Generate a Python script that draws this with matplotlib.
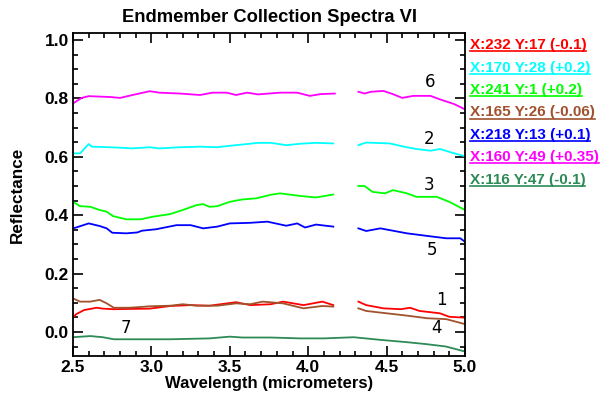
import numpy as np
import matplotlib
matplotlib.use("Agg")
import matplotlib.pyplot as plt
from matplotlib.lines import Line2D
from matplotlib.ticker import MultipleLocator, FormatStrFormatter

nan = np.nan

# spectra (nan marks the missing band)
red_wl = [2.5, 2.52, 2.57, 2.65, 2.69, 2.76, 2.86, 2.99, 3.12, 3.25, 3.37, 3.54, 3.63, 3.76, 3.84, 3.97, 4.09, 4.16,
          nan, 4.32, 4.37, 4.48, 4.59, 4.65, 4.71, 4.84, 4.90, 5.0]
red_refl = [0.050, 0.061, 0.075, 0.083, 0.080, 0.078, 0.079, 0.080, 0.089, 0.092, 0.090, 0.102, 0.092, 0.095, 0.104,
            0.092, 0.104, 0.092, nan, 0.104, 0.092, 0.081, 0.078, 0.083, 0.072, 0.064, 0.052, 0.049]

cyan_wl = [2.5, 2.545, 2.60, 2.62, 2.78, 2.88, 2.99, 3.05, 3.18, 3.31, 3.42, 3.50, 3.61, 3.68, 3.76, 3.86, 3.95, 4.05,
           4.16, nan, 4.32, 4.37, 4.52, 4.61, 4.69, 4.78, 4.84, 4.90, 5.0]
cyan_refl = [0.612, 0.612, 0.644, 0.635, 0.632, 0.629, 0.633, 0.629, 0.633, 0.635, 0.633, 0.638, 0.644, 0.648, 0.648,
             0.640, 0.645, 0.648, 0.646, nan, 0.640, 0.649, 0.646, 0.635, 0.627, 0.621, 0.627, 0.617, 0.602]

green_wl = [2.5, 2.545, 2.61, 2.67, 2.715, 2.755, 2.84, 2.93, 3.01, 3.12, 3.20, 3.29, 3.33, 3.37, 3.42, 3.50, 3.58,
            3.67, 3.76, 3.82, 3.95, 4.05, 4.16, nan, 4.32, 4.36, 4.41, 4.49, 4.54, 4.63, 4.69, 4.82, 4.90, 5.0]
green_refl = [0.446, 0.431, 0.429, 0.418, 0.412, 0.397, 0.386, 0.386, 0.395, 0.404, 0.418, 0.435, 0.438, 0.429,
              0.431, 0.446, 0.454, 0.458, 0.470, 0.475, 0.466, 0.461, 0.471, nan, 0.500, 0.500, 0.480, 0.475,
              0.486, 0.475, 0.463, 0.463, 0.446, 0.418]

brown_wl = [2.5, 2.545, 2.61, 2.67, 2.715, 2.76, 2.86, 2.99, 3.12, 3.20, 3.29, 3.42, 3.54, 3.63, 3.71, 3.84, 3.97,
            4.09, 4.16, nan, 4.32, 4.37, 4.50, 4.63, 4.76, 4.88, 5.0]
brown_refl = [0.115, 0.104, 0.104, 0.110, 0.098, 0.083, 0.083, 0.088, 0.090, 0.095, 0.090, 0.090, 0.098, 0.095,
              0.104, 0.098, 0.081, 0.089, 0.087, nan, 0.081, 0.072, 0.064, 0.056, 0.047, 0.044, 0.027]

blue_wl = [2.5, 2.52, 2.60, 2.67, 2.715, 2.75, 2.84, 2.91, 2.94, 3.03, 3.16, 3.25, 3.33, 3.42, 3.50, 3.63, 3.74, 3.86,
           3.93, 3.98, 4.05, 4.16, nan, 4.32, 4.37, 4.46, 4.54, 4.63, 4.76, 4.88, 4.97, 5.0]
blue_refl = [0.355, 0.358, 0.372, 0.363, 0.355, 0.340, 0.338, 0.341, 0.347, 0.352, 0.366, 0.366, 0.355, 0.361, 0.372,
             0.374, 0.378, 0.364, 0.372, 0.358, 0.368, 0.361, nan, 0.355, 0.346, 0.355, 0.347, 0.338, 0.329, 0.321,
             0.321, 0.309]

magenta_wl = [2.5, 2.52, 2.555, 2.60, 2.74, 2.80, 2.88, 2.99, 3.05, 3.18, 3.31, 3.39, 3.48, 3.54, 3.61, 3.68, 3.82,
              3.93, 4.01, 4.08, 4.17, nan, 4.32, 4.36, 4.40, 4.48, 4.54, 4.60, 4.67, 4.78, 4.84, 4.93, 5.0]
magenta_refl = [0.783, 0.790, 0.802, 0.808, 0.805, 0.802, 0.812, 0.825, 0.820, 0.817, 0.812, 0.820, 0.820, 0.812,
                0.820, 0.814, 0.820, 0.820, 0.809, 0.815, 0.817, nan, 0.823, 0.817, 0.823, 0.826, 0.815, 0.802,
                0.809, 0.809, 0.797, 0.781, 0.763]

seagreen_wl = [2.5, 2.61, 2.69, 2.76, 3.12, 3.37, 3.50, 3.58, 3.76, 3.95, 4.10, 4.29, 4.46, 4.63, 4.76, 4.88, 5.0]
seagreen_refl = [-0.018, -0.014, -0.018, -0.025, -0.025, -0.022, -0.016, -0.019, -0.019, -0.022, -0.022, -0.018,
                 -0.027, -0.035, -0.042, -0.050, -0.067]

colors = ["#ff0000", "#00ffff", "#00ff00", "#a0522d", "#0000ff", "#ff00ff", "#2e8b57"]
legend_labels = ["X:232 Y:17 (-0.1)", "X:170 Y:28 (+0.2)", "X:241 Y:1 (+0.2)", "X:165 Y:26 (-0.06)",
                 "X:218 Y:13 (+0.1)", "X:160 Y:49 (+0.35)", "X:116 Y:47 (-0.1)"]
curve_ids = ["1", "2", "3", "4", "5", "6", "7"]
id_x = [4.85, 4.77, 4.77, 4.82, 4.79, 4.78, 2.84]
id_y = [0.11, 0.66, 0.505, 0.012, 0.281, 0.858, 0.014]

series = [(red_wl, red_refl), (cyan_wl, cyan_refl), (green_wl, green_refl), (brown_wl, brown_refl),
          (blue_wl, blue_refl), (magenta_wl, magenta_refl), (seagreen_wl, seagreen_refl)]

plt.rcParams['font.family'] = ['Liberation Sans', 'DejaVu Sans']

fig = plt.figure(figsize=(6, 3.99), dpi=100)
ax = fig.add_axes([0.1217, 0.108, 0.6533, 0.809])

for (wl, refl), c in zip(series, colors):
    ax.plot(wl, refl, color=c, lw=1.3)

for lab, xx, yy in zip(curve_ids, id_x, id_y):
    ax.text(xx, yy, lab, fontsize=12, ha="center", va="center", color="black",
            family=["DejaVu Sans"])

ax.set_xlim(2.5, 5.0)
ax.set_ylim(-0.082, 1.024)
ax.xaxis.set_major_locator(MultipleLocator(0.5))
ax.xaxis.set_minor_locator(MultipleLocator(0.1))
ax.yaxis.set_major_locator(MultipleLocator(0.2))
ax.yaxis.set_minor_locator(MultipleLocator(0.05))
ax.xaxis.set_major_formatter(FormatStrFormatter("%.1f"))
ax.yaxis.set_major_formatter(FormatStrFormatter("%.1f"))
ax.tick_params(which="both", direction="in", top=True, right=True, width=1.2)
ax.tick_params(which="major", length=7, labelsize=12.5)
ax.tick_params(axis="y", which="major", pad=3)
ax.tick_params(axis="x", which="major", pad=3)
ax.tick_params(which="minor", length=3.5)
for lbl in ax.get_xticklabels() + ax.get_yticklabels():
    lbl.set_fontweight("bold")
for sp in ax.spines.values():
    sp.set_linewidth(1.3)

ax.set_xlabel("Wavelength (micrometers)", fontsize=12, fontweight="bold", va="top")
ax.set_ylabel("Reflectance", fontsize=12.3, fontweight="bold", va="center")
ax.xaxis.set_label_coords(0.5, -0.062)
ax.yaxis.set_label_coords(-0.142, 0.5)
ax.set_title("Endmember Collection Spectra VI", fontsize=13.2, fontweight="bold", pad=8)

# legend as underlined coloured text on the right
texts = []
for i, (lab, c) in enumerate(zip(legend_labels, colors)):
    t = fig.text(0.783, 0.887 - i * 0.0562, lab, color=c, fontsize=11, fontweight="bold",
                 ha="left", va="center")
    texts.append(t)

fig.canvas.draw()
inv = fig.transFigure.inverted()
for t, c in zip(texts, colors):
    bb = t.get_window_extent().transformed(inv)
    fig.add_artist(Line2D([bb.x0, bb.x1], [bb.y0 + 0.002, bb.y0 + 0.002],
                          transform=fig.transFigure, color=c, lw=1.2))

fig.savefig("out.png", dpi=100)
